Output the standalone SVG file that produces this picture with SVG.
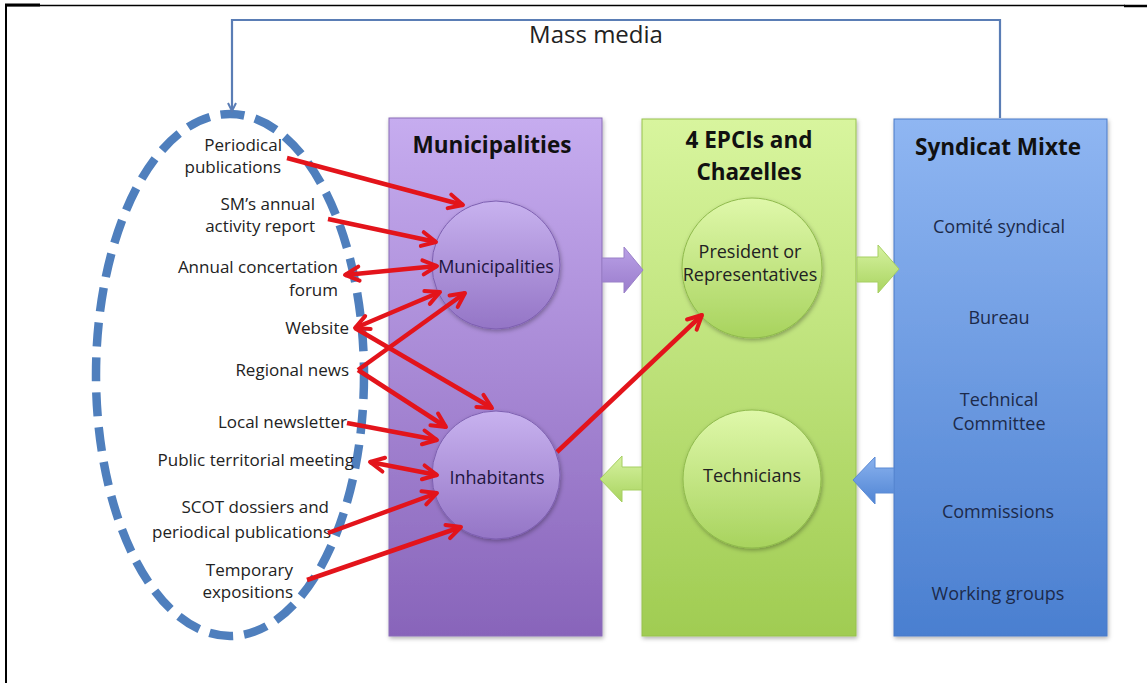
<svg xmlns="http://www.w3.org/2000/svg" width="1147" height="683" viewBox="0 0 1147 683">
<defs>
<style>
.t{font-family:"Open Sans","Liberation Sans",sans-serif;font-size:18px;fill:#222;}
.m{font-size:17px;}
.l{text-anchor:end;}
.c{text-anchor:middle;}
.h{font-family:"Open Sans","Liberation Sans",sans-serif;font-weight:bold;font-size:22.5px;fill:#111;text-anchor:middle;}
.s{font-family:"Open Sans","Liberation Sans",sans-serif;font-size:18px;fill:#1c2a4a;text-anchor:middle;}
.red{stroke:#e3141b;stroke-width:4.5;fill:none;marker-end:url(#ah);}
.bi{marker-start:url(#ah);}
</style>
<linearGradient id="gp" x1="0" y1="0" x2="0" y2="1"><stop offset="0" stop-color="#c6acef"/><stop offset="1" stop-color="#8864ba"/></linearGradient>
<linearGradient id="gg" x1="0" y1="0" x2="0" y2="1"><stop offset="0" stop-color="#d8f59e"/><stop offset="1" stop-color="#a0cc52"/></linearGradient>
<linearGradient id="gb" x1="0" y1="0" x2="0" y2="1"><stop offset="0" stop-color="#8fb6f2"/><stop offset="1" stop-color="#4a7fd0"/></linearGradient>
<linearGradient id="cp" x1="0" y1="0" x2="0" y2="1"><stop offset="0" stop-color="#c8b2ef"/><stop offset="1" stop-color="#9475c6"/></linearGradient>
<linearGradient id="cg" x1="0" y1="0" x2="0" y2="1"><stop offset="0" stop-color="#dff8aa"/><stop offset="1" stop-color="#a8d35e"/></linearGradient>
<linearGradient id="ap" x1="0" y1="0" x2="0" y2="1"><stop offset="0" stop-color="#b9a0e6"/><stop offset="1" stop-color="#9a7ccc"/></linearGradient>
<linearGradient id="ag" x1="0" y1="0" x2="0" y2="1"><stop offset="0" stop-color="#d6f2a0"/><stop offset="1" stop-color="#a9d460"/></linearGradient>
<linearGradient id="ab" x1="0" y1="0" x2="0" y2="1"><stop offset="0" stop-color="#8ab2ee"/><stop offset="1" stop-color="#4f84d4"/></linearGradient>
<filter id="sh" x="-10%" y="-10%" width="120%" height="120%"><feDropShadow dx="1" dy="2" stdDeviation="2" flood-color="#000" flood-opacity="0.3"/></filter>
<marker id="ah" viewBox="0 0 20 20" refX="17" refY="10" markerWidth="20" markerHeight="20" markerUnits="userSpaceOnUse" orient="auto-start-reverse"><path d="M3,3 L17,10 L3,17" fill="none" stroke="#e3141b" stroke-width="4" stroke-linecap="round" stroke-linejoin="round"/></marker>
<marker id="bh" viewBox="0 0 12 12" refX="10" refY="6" markerWidth="12" markerHeight="12" markerUnits="userSpaceOnUse" orient="auto"><path d="M2,2 L10,6 L2,10" fill="none" stroke="#5a7db5" stroke-width="2"/></marker>
</defs>
<rect width="1147" height="683" fill="#fff"/>
<g id="frame" stroke="#000" fill="none">
<line x1="5" y1="5.5" x2="1125" y2="5.5" stroke-width="1.5"/>
<line x1="5" y1="5" x2="40" y2="5" stroke-width="3"/>
<line x1="1124" y1="6" x2="1147" y2="6" stroke-width="2.5"/>
<line x1="6" y1="5" x2="6" y2="683" stroke-width="2"/>
</g>
<g id="col-municipalities">
<rect x="389" y="118" width="213" height="518" fill="url(#gp)" stroke="#8a6cb8" stroke-width="1" filter="url(#sh)"/>
<text class="h" x="492" y="153">Municipalities</text>
</g>
<g id="col-epci">
<rect x="642" y="119" width="214" height="517" fill="url(#gg)" stroke="#97c24e" stroke-width="1" filter="url(#sh)"/>
<text class="h" x="749" y="148">4 EPCIs and</text>
<text class="h" x="749" y="180">Chazelles</text>
</g>
<g id="col-syndicat">
<rect x="894" y="119" width="213" height="517" fill="url(#gb)" stroke="#4a7bc8" stroke-width="1" filter="url(#sh)"/>
<text class="h" x="998" y="155">Syndicat Mixte</text>
<text class="s" x="999" y="233">Comité syndical</text>
<text class="s" x="999" y="324">Bureau</text>
<text class="s" x="999" y="406">Technical</text>
<text class="s" x="999" y="430">Committee</text>
<text class="s" x="998" y="518">Commissions</text>
<text class="s" x="998" y="600">Working groups</text>
</g>
<g id="node-municipalities">
<circle cx="496" cy="265" r="64" fill="url(#cp)" stroke="#7d5fb0" stroke-width="1" filter="url(#sh)"/>
<text class="t c" x="496" y="273" style="fill:#1f1640">Municipalities</text>
</g>
<g id="node-inhabitants">
<circle cx="496" cy="475" r="64" fill="url(#cp)" stroke="#7d5fb0" stroke-width="1" filter="url(#sh)"/>
<text class="t c" x="497" y="484" style="fill:#1f1640">Inhabitants</text>
</g>
<g id="node-president">
<circle cx="752" cy="268" r="70" fill="url(#cg)" stroke="#8fba4c" stroke-width="1" filter="url(#sh)"/>
<text class="t c" x="750" y="258">President or</text>
<text class="t c" x="750" y="281">Representatives</text>
</g>
<g id="node-technicians">
<circle cx="752" cy="479" r="69" fill="url(#cg)" stroke="#8fba4c" stroke-width="1" filter="url(#sh)"/>
<text class="t c" x="752" y="482">Technicians</text>
</g>
<g id="media">
<ellipse cx="230" cy="375" rx="134" ry="261" fill="none" stroke="#4f7fbd" stroke-width="8.5" stroke-dasharray="24 11"/>
<text class="t m l" x="282" y="151">Periodical</text>
<text class="t m l" x="281" y="173">publications</text>
<text class="t m l" x="315" y="210">SM’s annual</text>
<text class="t m l" x="315" y="232">activity report</text>
<text class="t m l" x="338" y="273">Annual concertation</text>
<text class="t m l" x="338" y="296">forum</text>
<text class="t m l" x="349" y="334">Website</text>
<text class="t m l" x="349" y="376">Regional news</text>
<text class="t m l" x="347" y="428">Local newsletter</text>
<text class="t m l" x="354" y="466">Public territorial meeting</text>
<text class="t m l" x="329" y="513">SCOT dossiers and</text>
<text class="t m l" x="331" y="538">periodical publications</text>
<text class="t m l" x="293" y="576">Temporary</text>
<text class="t m l" x="293" y="598">expositions</text>
</g>
<g id="connectors">
<polyline points="1000,118 1000,20 232,20 232,111" fill="none" stroke="#5a7db5" stroke-width="2.2" marker-end="url(#bh)"/>
<text class="t c" x="596" y="43" style="font-size:24px">Mass media</text>
<polygon points="602,258 624,258 624,247 643,270 624,293 624,282 602,282" fill="url(#ap)" stroke="#9a80c8" stroke-width="1"/>
<polygon points="857,257 878,257 878,245 899,269 878,293 878,282 857,282" fill="url(#ag)" stroke="#a6cf62" stroke-width="1"/>
<polygon points="642,467 622,467 622,456 600,479 622,502 622,490 642,490" fill="url(#ag)" stroke="#a6cf62" stroke-width="1"/>
<polygon points="894,468 875,468 875,457 853,480 875,504 875,493 894,493" fill="url(#ab)" stroke="#5a8ad4" stroke-width="1"/>
<line class="red" x1="287" y1="158" x2="463" y2="205"/>
<line class="red" x1="328" y1="219" x2="436" y2="242"/>
<line class="red bi" x1="345" y1="275" x2="437" y2="266"/>
<line class="red bi" x1="355" y1="328" x2="440" y2="292"/>
<line class="red" x1="355" y1="328" x2="492" y2="408"/>
<line class="red" x1="358" y1="370" x2="465" y2="293"/>
<line class="red" x1="358" y1="370" x2="446" y2="427"/>
<line class="red" x1="347" y1="423" x2="437" y2="440"/>
<line class="red bi" x1="370" y1="462" x2="437" y2="475"/>
<line class="red" x1="328" y1="533" x2="437" y2="493"/>
<line class="red" x1="307" y1="580" x2="461" y2="527"/>
<line class="red" x1="557" y1="452" x2="702" y2="315"/>
</g>
</svg>
